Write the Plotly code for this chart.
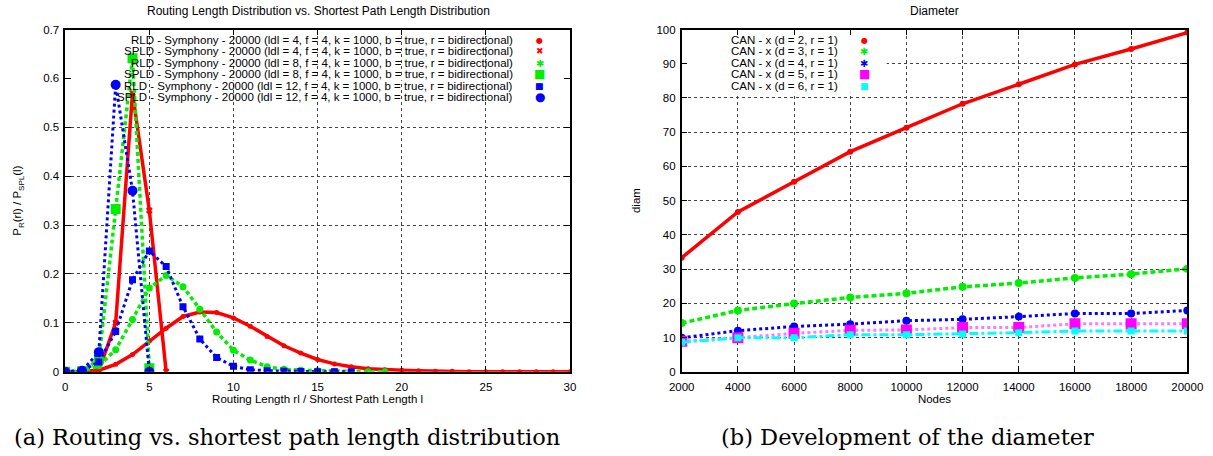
import plotly.graph_objects as go

# ---------------- data: left panel ----------------
rl_x = list(range(31))
rld_ldl4 = [0, 0, 0.003, 0.015, 0.035, 0.063, 0.089, 0.113, 0.122, 0.121, 0.110,
            0.093, 0.072, 0.053, 0.038, 0.025, 0.016, 0.010, 0.006, 0.004, 0.003,
            0.002, 0.001, 0.001, 0, 0, 0, 0, 0, 0, 0]
spld_ldl4 = [0, 0, 0.003, 0.100, 0.570, 0.330, 0]
rld_ldl8 = [0, 0.001, 0.012, 0.045, 0.107, 0.171, 0.197, 0.174, 0.128, 0.081,
            0.044, 0.024, 0.010, 0.005, 0.003, 0.002, 0.001, 0.0005, 0, 0]
spld_ldl8 = [0, 0.001, 0.025, 0.333, 0.641, 0.007]
rld_ldl12 = [0, 0.002, 0.020, 0.082, 0.188, 0.247, 0.215, 0.133, 0.067, 0.029,
             0.011, 0.004, 0.002, 0.001, 0.0005, 0, 0, 0]
spld_ldl12 = [0, 0.002, 0.040, 0.587, 0.370, 0]

left_names = [
    "RLD - Symphony - 20000 (ldl = 4, f = 4, k = 1000, b = true, r = bidirectional)",
    "SPLD - Symphony - 20000 (ldl = 4, f = 4, k = 1000, b = true, r = bidirectional)",
    "RLD - Symphony - 20000 (ldl = 8, f = 4, k = 1000, b = true, r = bidirectional)",
    "SPLD - Symphony - 20000 (ldl = 8, f = 4, k = 1000, b = true, r = bidirectional)",
    "RLD - Symphony - 20000 (ldl = 12, f = 4, k = 1000, b = true, r = bidirectional)",
    "SPLD - Symphony - 20000 (ldl = 12, f = 4, k = 1000, b = true, r = bidirectional)",
]

# ---------------- data: right panel ----------------
nodes = [2000, 4000, 6000, 8000, 10000, 12000, 14000, 16000, 18000, 20000]
diam_d2 = [33.3, 46.7, 55.5, 64.3, 71.3, 78.3, 84.0, 89.8, 94.3, 99.1]
diam_d3 = [14.2, 17.9, 19.9, 21.7, 22.9, 24.8, 25.9, 27.4, 28.5, 30.1]
diam_d4 = [9.9, 12.0, 13.2, 13.9, 14.9, 15.3, 16.1, 17.0, 17.0, 17.9]
diam_d5 = [8.9, 9.9, 11.2, 12.1, 12.2, 12.9, 12.9, 14.0, 14.0, 14.0]
diam_d6 = [8.6, 9.9, 9.9, 10.8, 10.8, 11.0, 11.4, 11.9, 11.9, 11.9]
right_names = ["CAN - x (d = 2, r = 1)", "CAN - x (d = 3, r = 1)", "CAN - x (d = 4, r = 1)",
               "CAN - x (d = 5, r = 1)", "CAN - x (d = 6, r = 1)"]

RED, GREEN, BLUE, MAG, CYAN = "#ff0000", "#00ee00", "#0000ff", "#ff00ff", "#00ffff"
W, H = 1213, 456
FONT = "Liberation Sans, Arial, sans-serif"
TXT = 11.5

def px(x):
    return x / W

def py(y):
    return 1 - y / H

fig = go.Figure()

left_specs = [
    (rld_ldl4, RED, "solid", 3.5, "circle", 5),
    (spld_ldl4, RED, "solid", 3.5, "x", 6),
    (rld_ldl8, GREEN, "4px,3px", 3.5, "circle", 7),
    (spld_ldl8, GREEN, "4px,3px", 3.5, "square", 10),
    (rld_ldl12, BLUE, "dot", 3, "square", 7),
    (spld_ldl12, BLUE, "dot", 3, "circle", 10),
]
for name, (ys, col, dash, lw, sym, ms) in zip(left_names, left_specs):
    fig.add_trace(go.Scatter(
        x=rl_x[:len(ys)], y=ys, name=name, mode="lines+markers",
        line=dict(color=col, width=lw, dash=dash),
        marker=dict(color=col, symbol=sym, size=ms, line=dict(width=0)),
        xaxis="x", yaxis="y", showlegend=False))

right_specs = [
    (diam_d2, RED, "solid", 3.5, "circle", 6),
    (diam_d3, GREEN, "5px,3px", 3.5, "circle", 8),
    (diam_d4, BLUE, "dot", 3, "circle", 8),
    (diam_d5, "#ff77ff", "dot", 3, "square", 11),
    (diam_d6, CYAN, "dashdot", 3, "square", 7),
]
for name, (ys, col, dash, lw, sym, ms) in zip(right_names, right_specs):
    mcol = MAG if col == "#ff77ff" else col
    fig.add_trace(go.Scatter(
        x=nodes, y=ys, name=name, mode="lines+markers",
        line=dict(color=col, width=lw, dash=dash),
        marker=dict(color=mcol, symbol=sym, size=ms, line=dict(width=0)),
        xaxis="x2", yaxis="y2", showlegend=False))

axis_common = dict(
    showline=True, linecolor="black", linewidth=1.5, mirror="ticks",
    ticks="inside", ticklen=6, tickcolor="black", tickwidth=1,
    showgrid=True, gridcolor="#444", griddash="dot", gridwidth=1,
    zeroline=False, tickfont=dict(family=FONT, size=TXT, color="black"),
    automargin=False,
)

y_dom = [py(371.7), py(29.5)]
fig.update_layout(
    width=W, height=H, margin=dict(l=0, r=0, t=0, b=0),
    paper_bgcolor="white", plot_bgcolor="white",
    font=dict(family=FONT, size=TXT, color="black"),
    xaxis=dict(axis_common, domain=[px(65.2), px(570)], range=[0, 30],
               tickvals=[0, 5, 10, 15, 20, 25, 30], anchor="y",
               ticklabelstandoff=4,
               title=dict(text="Routing Length rl / Shortest Path Length l",
                          standoff=2, font=dict(size=TXT))),
    yaxis=dict(axis_common, domain=y_dom, range=[0, 0.7], dtick=0.1, anchor="x",
               ticklabelstandoff=2,
               title=dict(text="P<sub>R</sub>(rl) / P<sub>SPL</sub>(l)",
                          standoff=19, font=dict(size=TXT))),
    xaxis2=dict(axis_common, domain=[px(681.7), px(1187.3)], range=[2000, 20000],
                tickvals=nodes, tickformat="d", anchor="y2",
                ticklabelstandoff=4,
                title=dict(text="Nodes", standoff=2, font=dict(size=TXT))),
    yaxis2=dict(axis_common, domain=y_dom, range=[0, 100], dtick=10, anchor="x2",
                ticklabelstandoff=2,
                title=dict(text="diam", standoff=13, font=dict(size=TXT))),
)

# cover grid where the key sits
fig.add_shape(type="rect", xref="x", yref="y", x0=0, x1=30, y0=0.596, y1=0.604,
              fillcolor="white", line=dict(width=0), layer="between")
fig.add_shape(type="rect", xref="x2", yref="y2", x0=2000, x1=9300, y0=81.5, y1=98.8,
              fillcolor="white", line=dict(width=0), layer="between")

ann = []
# titles
ann.append(dict(text="Routing Length Distribution vs. Shortest Path Length Distribution",
                x=px(318), y=py(11), xref="paper", yref="paper", showarrow=False,
                xanchor="center", yanchor="middle", font=dict(size=12)))
ann.append(dict(text="Diameter", x=px(934), y=py(11), xref="paper", yref="paper",
                showarrow=False, xanchor="center", yanchor="middle", font=dict(size=12)))

# key, left
left_glyphs = [("●", RED, 8), ("✖", RED, 9), ("✱", GREEN, 10),
               ("■", GREEN, 12), ("■", BLUE, 9), ("●", BLUE, 12)]
for i, (name, (g, col, fs)) in enumerate(zip(left_names, left_glyphs)):
    yy = py(40 + 11.5 * i)
    ann.append(dict(text=name, x=px(515), y=yy, xref="paper", yref="paper",
                    showarrow=False, xanchor="right", yanchor="middle", font=dict(size=TXT)))
    ann.append(dict(text=g, x=px(539.5), y=yy, xref="paper", yref="paper",
                    showarrow=False, xanchor="center", yanchor="middle",
                    font=dict(size=fs, color=col, family="DejaVu Sans")))

right_glyphs = [("●", RED, 8), ("✱", GREEN, 10), ("✱", BLUE, 10),
                ("■", MAG, 12), ("■", CYAN, 9)]
for i, (name, (g, col, fs)) in enumerate(zip(right_names, right_glyphs)):
    yy = py(40 + 11.5 * i)
    ann.append(dict(text=name, x=px(840), y=yy, xref="paper", yref="paper",
                    showarrow=False, xanchor="right", yanchor="middle", font=dict(size=TXT)))
    ann.append(dict(text=g, x=px(864), y=yy, xref="paper", yref="paper",
                    showarrow=False, xanchor="center", yanchor="middle",
                    font=dict(size=fs, color=col, family="DejaVu Sans")))

# captions
CAP = "DejaVu Serif, Liberation Serif, serif"
ann.append(dict(text="(a) Routing vs. shortest path length distribution",
                x=px(287), y=py(437), xref="paper", yref="paper", showarrow=False,
                xanchor="center", yanchor="middle", font=dict(family=CAP, size=22.5)))
ann.append(dict(text="(b) Development of the diameter",
                x=px(907), y=py(437), xref="paper", yref="paper", showarrow=False,
                xanchor="center", yanchor="middle", font=dict(family=CAP, size=22.5)))

fig.update_layout(annotations=ann)
fig.write_html("out.html")
